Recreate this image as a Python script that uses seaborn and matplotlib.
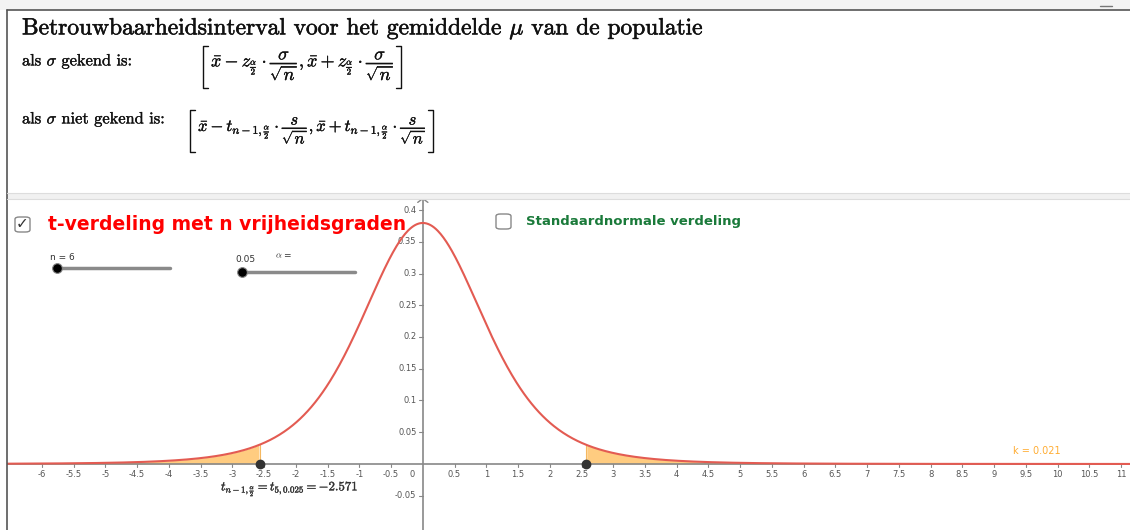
import math
import numpy as np
import seaborn as sns
import matplotlib.pyplot as plt
import matplotlib.patheffects as pe
from matplotlib.patches import Rectangle, FancyBboxPatch
from matplotlib.lines import Line2D

n = 6                  # sample size (slider)
alpha = 0.05           # significance level (slider)
t_crit = 2.571         # t_{5,0.025}
k_label = "k = 0.021"  # area label shown bottom right
x_ticks = [-6, -5.5, -5, -4.5, -4, -3.5, -3, -2.5, -2, -1.5, -1, -0.5,
           0.5, 1, 1.5, 2, 2.5, 3, 3.5, 4, 4.5, 5, 5.5, 6, 6.5, 7, 7.5,
           8, 8.5, 9, 9.5, 10, 10.5, 11]
y_ticks = [-0.05, 0.05, 0.1, 0.15, 0.2, 0.25, 0.3, 0.35, 0.4]

sns.set_style("white")
plt.rcParams["mathtext.fontset"] = "cm"
plt.rcParams["axes.formatter.use_mathtext"] = True

W, H = 1130, 530
fig = plt.figure(figsize=(W / 100, H / 100), dpi=100)
thick = [pe.withStroke(linewidth=0.4, foreground="#111111")]
thin = [pe.withStroke(linewidth=0.25, foreground="#111111")]


def px(x, y):
    return x / W, 1 - y / H


def bracket(x0, x1, ytop, ybot):
    # tall square brackets around a formula, pixel coordinates
    for xa, xb in ((x0 + 5, x0), (x1 - 5, x1)):
        xs_ = [xa / W, xb / W, xb / W, xa / W]
        ys_ = [1 - ytop / H, 1 - ytop / H, 1 - ybot / H, 1 - ybot / H]
        fig.add_artist(Line2D(xs_, ys_, color="#111111", lw=1.0))


# --- top panel (formulas) ---
fig.add_artist(Rectangle((0, 1 - 10 / H), 1, 10 / H, transform=fig.transFigure,
                         color="#f3f3f3", lw=0))
fig.add_artist(Line2D([7 / W, 1], [1 - 10 / H] * 2, color="#555555", lw=1.2))
fig.add_artist(Line2D([7 / W] * 2, [0, 1 - 10 / H], color="#555555", lw=1.2))
fig.add_artist(Rectangle(px(7, 199), 1, 6 / H, transform=fig.transFigure,
                         color="#f1f1f1", lw=0))
fig.add_artist(Line2D([7 / W, 1], [1 - 193 / H] * 2, color="#dddddd", lw=0.8))
fig.add_artist(Line2D([7 / W, 1], [1 - 199 / H] * 2, color="#dddddd", lw=0.8))
fig.add_artist(Line2D([1100 / W, 1112 / W], [1 - 6 / H] * 2, color="#777777", lw=1))

fig.text(*px(22, 28), r"Betrouwbaarheidsinterval voor het gemiddelde $\mu$ van de populatie",
         family="cmr10", fontsize=16.9, va="center", ha="left", color="#111111",
         path_effects=thick)
fig.text(*px(22, 61), r"als $\sigma$ gekend is:", family="cmr10",
         fontsize=11.8, va="center", ha="left", color="#111111", path_effects=thin)
fig.text(*px(22, 119), r"als $\sigma$ niet gekend is:", family="cmr10",
         fontsize=11.8, va="center", ha="left", color="#111111", path_effects=thin)

f1 = fig.text(*px(211, 67),
              r"$\bar{x}-z_{\frac{\alpha}{2}}\cdot\dfrac{\sigma}{\sqrt{n}},\bar{x}+z_{\frac{\alpha}{2}}\cdot\dfrac{\sigma}{\sqrt{n}}$",
              fontsize=13, va="center", ha="left", color="#111111", path_effects=thin)
f2 = fig.text(*px(198, 130),
              r"$\bar{x}-t_{n-1,\frac{\alpha}{2}}\cdot\dfrac{s}{\sqrt{n}},\bar{x}+t_{n-1,\frac{\alpha}{2}}\cdot\dfrac{s}{\sqrt{n}}$",
              fontsize=12, va="center", ha="left", color="#111111", path_effects=thin)
fig.canvas.draw()
for f, yt, yb in ((f1, 46, 88), (f2, 110, 152)):
    bb = f.get_window_extent()
    bracket(bb.x0 - 8, bb.x1 + 6, yt, yb)

# --- graph view ---
x_left, x_right = -6.55, 11.14
y_bottom, y_top = -0.104, 0.4205
ax = fig.add_axes([7 / W, 0, (W - 7) / W, (H - 200) / H])
ax.set_xlim(x_left, x_right)
ax.set_ylim(y_bottom, (y_top - y_bottom) * (H - 200) / (H - 197) + y_bottom)

df = n - 1
coef = math.gamma((df + 1) / 2) / (math.sqrt(df * math.pi) * math.gamma(df / 2))
xs = np.linspace(x_left, x_right, 1200)
ys = coef * (1 + xs ** 2 / df) ** (-(df + 1) / 2)
y_crit = coef * (1 + t_crit ** 2 / df) ** (-(df + 1) / 2)

left = xs <= -t_crit
right = xs >= t_crit
ax.fill_between(xs[left], 0, ys[left], color="#ffcc80", lw=0, zorder=2)
ax.fill_between(xs[right], 0, ys[right], color="#ffcc80", lw=0, zorder=2)
ax.plot([-t_crit, -t_crit], [0, y_crit], color="#f5b860", lw=0.8, zorder=2)
ax.plot([t_crit, t_crit], [0, y_crit], color="#f5b860", lw=0.8, zorder=2)

ax.axhline(0, color="#888888", lw=1.2, zorder=3)
ax.axvline(0, color="#888888", lw=1.2, zorder=3)
sns.lineplot(x=xs, y=ys, ax=ax, color="#e35b52", lw=1.5, zorder=4)
ax.plot([-t_crit, t_crit], [0, 0], "o", color="#333333", ms=6, zorder=5)

for s in ax.spines.values():
    s.set_visible(False)
ax.set_xticks([])
ax.set_yticks([])

for t in x_ticks:
    ax.plot([t, t], [0, -0.004], color="#888888", lw=0.8, zorder=3)
    ax.text(t, -0.01, f"{t:g}", fontsize=6, color="#555555", ha="center", va="top")
ax.text(-0.12, -0.01, "0", fontsize=6, color="#555555", ha="right", va="top")
for t in y_ticks:
    ax.plot([0, -0.06], [t, t], color="#888888", lw=0.8, zorder=3)
    ax.text(-0.1, t, f"{t:g}", fontsize=6, color="#555555", ha="right", va="center")
ax.plot([-0.08, 0, 0.08], [0.412, 0.418, 0.412], color="#888888", lw=1, zorder=3)

ax.text(9.3, 0.0205, k_label, fontsize=7, color="#ffad33", ha="left", va="center")
ax.text(-3.18, -0.038,
        r"$t_{n-1,\frac{\alpha}{2}}=t_{5,0.025}=-2.571$",
        fontsize=9.2, color="#333333", ha="left", va="center",
        path_effects=[pe.withStroke(linewidth=0.25, foreground="#333333")])

# --- widgets ---
fig.add_artist(FancyBboxPatch(px(15, 232), 15 / W, 15 / H, boxstyle="round,pad=0,rounding_size=0.004",
                              transform=fig.transFigure, fc="white", ec="#888888", lw=1))
fig.text(*px(22.5, 224), "\u2713", fontsize=11, color="#333333", ha="center", va="center",
         fontweight="bold")
fig.text(*px(48, 224), "t-verdeling met n vrijheidsgraden", fontsize=13.5,
         color="#ff0000", fontweight="bold", ha="left", va="center")
fig.add_artist(FancyBboxPatch(px(496, 229), 15 / W, 15 / H, boxstyle="round,pad=0,rounding_size=0.004",
                              transform=fig.transFigure, fc="white", ec="#888888", lw=1))
fig.text(*px(526, 222), "Standaardnormale verdeling", fontsize=9.5,
         color="#1a7a3a", fontweight="bold", ha="left", va="center")

fig.text(*px(50, 257), f"n = {n}", fontsize=6.5, color="#333333", ha="left", va="center")
fig.add_artist(Line2D([55 / W, 170 / W], [1 - 268 / H] * 2, color="#8a8a8a", lw=2.5,
                      solid_capstyle="round"))
fig.add_artist(Line2D([57 / W], [1 - 268 / H], marker="o", color="black", ms=7,
                      mec="#888888", mew=0.8))
fig.text(*px(235, 260), f"{alpha:g}", fontsize=6.5, color="#333333", ha="left", va="center")
fig.text(*px(275, 256), r"$\alpha$ =", fontsize=6.5, color="#333333", ha="left", va="center")
fig.add_artist(Line2D([240 / W, 355 / W], [1 - 272 / H] * 2, color="#8a8a8a", lw=2.5,
                      solid_capstyle="round"))
fig.add_artist(Line2D([242 / W], [1 - 272 / H], marker="o", color="black", ms=7,
                      mec="#888888", mew=0.8))

fig.savefig("out.png", dpi=100)
